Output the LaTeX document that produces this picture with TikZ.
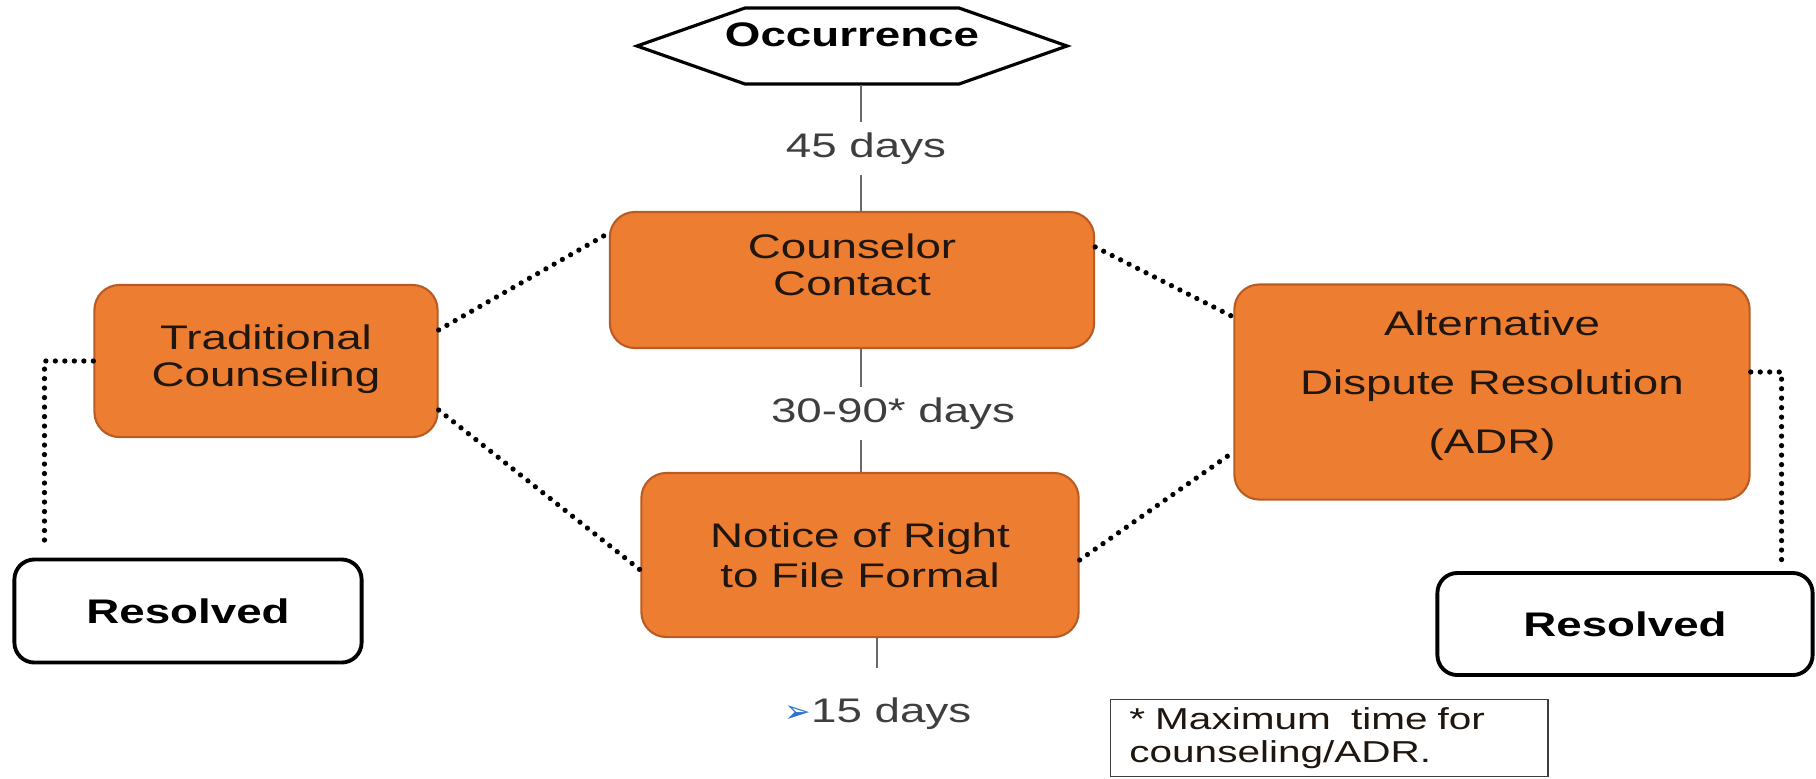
\documentclass[tikz,border=0pt]{standalone}
\usepackage{fontspec}
\setmainfont{Liberation Sans}[FakeStretch=1.34]
\newfontfamily\bulletfont{DejaVu Sans}

\definecolor{boxorange}{RGB}{237,125,49}
\definecolor{boxedge}{RGB}{185,92,36}
\definecolor{boxink}{RGB}{30,22,15}
\definecolor{dayink}{RGB}{62,62,62}
\definecolor{spinegray}{RGB}{105,105,105}
\definecolor{bulletblue}{RGB}{45,115,205}

\newcommand{\flowsize}{\fontsize{9.7}{10.5}\selectfont}

\tikzset{
  stage/.style={draw=boxedge, line width=0.6pt, fill=boxorange, rounded corners=0.25cm,
    align=center, text=boxink, inner sep=0pt},
  donebox/.style={draw=black, line width=1.1pt, fill=white, rounded corners=0.2cm,
    font=\flowsize\bfseries, text=black},
  daylbl/.style={text=dayink, inner sep=0.1cm, anchor=base},
  spine/.style={spinegray, line width=0.6pt},
  dotlink/.style={line width=1.5pt, dash pattern=on 0pt off 2.7pt, line cap=round},
}

\begin{document}
\begin{tikzpicture}[x=0.01cm, y=-0.01cm, font=\flowsize]
    \useasboundingbox (0,0) rectangle (1816,778);

    % 1. Occurrence (hexagon)
    \node[inner sep=0pt, text height=0.38cm, text depth=0.38cm, font=\flowsize\bfseries]
      (occ) at (852,46) {Occurrence};
    \draw[line width=0.9pt] ([shift={(-107,-38)}]occ.center) -- ([shift={(107,-38)}]occ.center)
      -- ([shift={(215,0)}]occ.center) -- ([shift={(107,38)}]occ.center)
      -- ([shift={(-107,38)}]occ.center) -- ([shift={(-215,0)}]occ.center) -- cycle;

    % 2. Stages
    \node[stage, minimum width=4.84cm, minimum height=1.36cm, text depth=0.3cm] (contact) at (852,280) {Counselor\\Contact};
    \node[stage, minimum width=3.43cm, minimum height=1.52cm, text depth=0.1cm] (trad) at (266,361) {Traditional\\Counseling};
    \node[stage, minimum width=4.37cm, minimum height=1.64cm, font=\fontsize{9.7}{11.4}\selectfont]
      (notice) at (860,555) {Notice of Right\\to File Formal};
    \node[stage, minimum width=5.15cm, minimum height=2.15cm, text depth=0.2cm, font=\fontsize{9.7}{16.8}\selectfont]
      (adr) at (1492,392) {Alternative\\Dispute Resolution\\(ADR)};

    % 3. Resolved
    \node[donebox, minimum width=3.47cm, minimum height=1.03cm] (resL) at (188,611) {Resolved};
    \node[donebox, minimum width=3.75cm, minimum height=1.02cm] (resR) at (1625,624) {Resolved};

    % 4. Time limits on the main line
    \coordinate (spine) at (861,0);
    \coordinate (spinelow) at (877,0);
    \node[daylbl] (d45) at (866,157) {45 days};
    \node[daylbl] (d3090) at (893,422) {30-90* days};
    \node[daylbl] (d15) at (878,722) {{\bulletfont\fontsize{9}{9}\selectfont\color{bulletblue}➢}15 days};

    \draw[spine] (occ.south -| spine) -- (d45.north -| spine);
    \draw[spine] (d45.south -| spine) -- (contact.north -| spine);
    \draw[spine] (contact.south -| spine) -- (d3090.north -| spine);
    \draw[spine] (d3090.south -| spine) -- (notice.north -| spine);
    \draw[spine, shorten >=0.19cm] (notice.south -| spinelow) -- (d15.north -| spinelow);

    % 5. Dotted links
    \draw[dotlink, shorten >=0.1cm] (trad.west) -| ([xshift=0.32cm]resL.north west);
    \draw[dotlink] ([yshift=0.31cm]trad.east) -- ([yshift=0.47cm]contact.west);
    \draw[dotlink] ([yshift=-0.49cm]trad.east) -- ([yshift=-0.15cm]notice.west);
    \draw[dotlink] ([yshift=0.33cm]contact.east) -- ([yshift=0.75cm]adr.west);
    \draw[dotlink] ([yshift=-0.05cm]notice.east) -- ([yshift=-0.6cm]adr.west);
    \draw[dotlink, shorten >=0.1cm] ([yshift=0.2cm]adr.east) -| ([xshift=-0.33cm]resR.north east);

    % 6. Footnote
    \node[draw=dayink, line width=0.5pt, minimum width=4.37cm, minimum height=0.77cm,
      inner xsep=0.19cm, inner ysep=0.04cm, text width=3.99cm, align=left, text=boxink,
      font=\fontsize{8.6}{9.4}\selectfont] (note) at (1329,738) {* Maximum~ time for\\counseling/ADR.};

\end{tikzpicture}
\end{document}
